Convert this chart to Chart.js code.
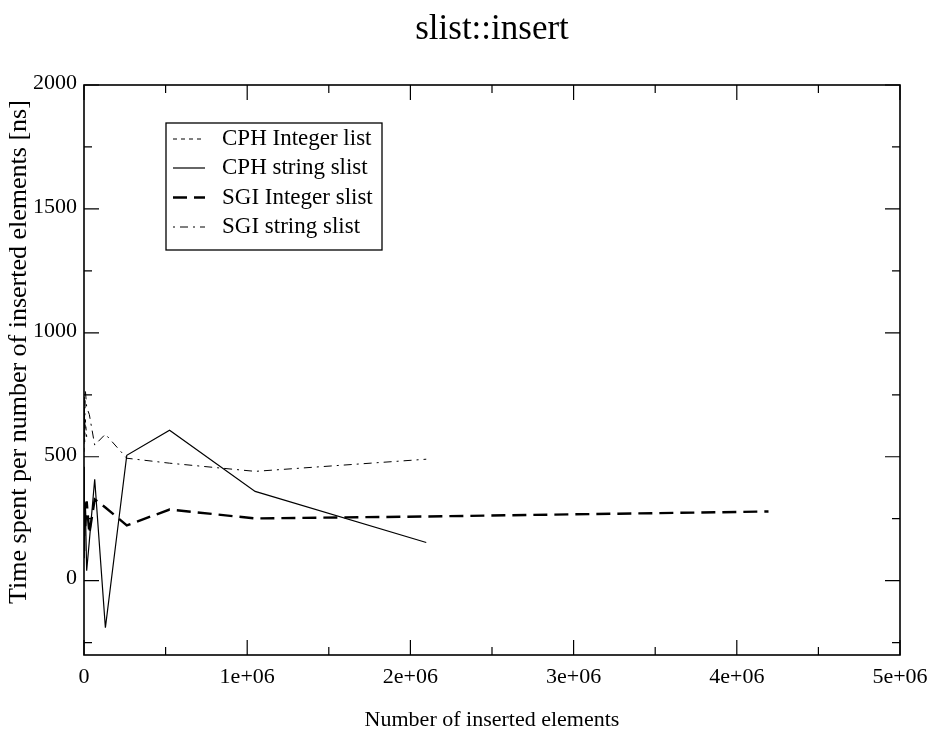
<!DOCTYPE html>
<html><head><meta charset="utf-8">
<script src="https://cdn.jsdelivr.net/npm/chart.js@4.4.1/dist/chart.umd.min.js"></script>
<style>html,body{margin:0;padding:0;background:#fff;overflow:hidden}</style>
</head><body>
<canvas id="c" width="938" height="734" style="display:block;width:938px;height:734px"></canvas>
<script>
// ---- text ----
const chartTitle = 'slist::insert';
const xTitle = 'Number of inserted elements';
const yTitle = 'Time spent per number of inserted elements [ns]';
const seriesNames = ['CPH Integer list', 'CPH string slist', 'SGI Integer slist', 'SGI string slist'];

// ---- data ----
const sizesCphInt = [256, 512, 1024, 2048, 4096, 8192, 16384];
const cphInteger  = [520, 740, 610, 690, 560, 650, 580];

const sizes      = [256, 512, 1024, 2048, 4096, 8192, 16384, 32768, 65536, 131072, 262144, 524288, 1048576, 2097152];
const cphString  = [180, 460, 90, 330, 210, 300, 40, 160, 409, -190, 506, 607, 360, 154];
const sgiString  = [610, 700, 560, 740, 600, 770, 700, 670, 547, 591, 494, 474, 441, 490];

const sizesSgiInt = [256, 512, 1024, 2048, 4096, 8192, 16384, 32768, 65536, 131072, 262144, 524288, 1048576, 2097152, 4194304];
const sgiInteger  = [250, 120, 300, 180, 330, 220, 320, 190, 328, 295, 223, 287, 251, 259, 279];

// ---- ticks ----
const xMajorTicks = [0, 1e6, 2e6, 3e6, 4e6, 5e6];
const xTickLabels = ['0', '1e+06', '2e+06', '3e+06', '4e+06', '5e+06'];
const xMinorTicks = [5e5, 1.5e6, 2.5e6, 3.5e6, 4.5e6];
const yMajorTicks = [0, 500, 1000, 1500, 2000];
const yTickLabels = ['0', '500', '1000', '1500', '2000'];
const yMinorTicks = [-250, 250, 750, 1250, 1750];

const FONT = '"Liberation Serif", "Times New Roman", serif';

function pts(xs, ys) { return xs.map((x, i) => ({ x: x, y: ys[i] })); }

const frame = {
  id: 'frame',
  beforeDatasetsDraw(chart) {
    const { ctx, chartArea: a, scales } = chart;
    const xs = scales.x, ys = scales.y;
    ctx.save();
    ctx.strokeStyle = '#000';
    ctx.lineWidth = 1.6;
    ctx.setLineDash([]);
    ctx.strokeRect(a.left, a.top, a.right - a.left, a.bottom - a.top);
    ctx.lineWidth = 1.2;
    ctx.beginPath();
    const hx = v => xs.getPixelForValue(v);
    const vy = v => ys.getPixelForValue(v);
    xMajorTicks.forEach(v => { const p = hx(v); ctx.moveTo(p, a.bottom); ctx.lineTo(p, a.bottom - 15); ctx.moveTo(p, a.top); ctx.lineTo(p, a.top + 15); });
    xMinorTicks.forEach(v => { const p = hx(v); ctx.moveTo(p, a.bottom); ctx.lineTo(p, a.bottom - 8); ctx.moveTo(p, a.top); ctx.lineTo(p, a.top + 8); });
    yMajorTicks.forEach(v => { const p = vy(v); ctx.moveTo(a.left, p); ctx.lineTo(a.left + 15, p); ctx.moveTo(a.right, p); ctx.lineTo(a.right - 15, p); });
    yMinorTicks.forEach(v => { const p = vy(v); ctx.moveTo(a.left, p); ctx.lineTo(a.left + 8, p); ctx.moveTo(a.right, p); ctx.lineTo(a.right - 8, p); });
    ctx.stroke();
    ctx.restore();
  },
  afterDraw(chart) {
    const { ctx } = chart;
    // y axis title (rotated)
    ctx.save();
    ctx.fillStyle = '#000';
    ctx.translate(19, 352);
    ctx.rotate(-Math.PI / 2);
    ctx.font = '26px ' + FONT;
    ctx.textAlign = 'center';
    ctx.textBaseline = 'middle';
    ctx.fillText(yTitle, 0, 0);
    ctx.restore();
    // legend box
    const L = 166, R = 382, T = 123, B = 250;
    ctx.save();
    ctx.strokeStyle = '#000';
    ctx.lineWidth = 1.3;
    ctx.setLineDash([]);
    ctx.strokeRect(L, T, R - L, B - T);
    const rows = [139, 168, 197.5, 227];
    chart.data.datasets.forEach((ds, i) => {
      const y = rows[i];
      ctx.beginPath();
      ctx.setLineDash(ds.borderDash || []);
      ctx.lineDashOffset = ds.legendDashOffset || 0;
      ctx.lineWidth = ds.borderWidth;
      ctx.moveTo(173, y);
      ctx.lineTo(205, y);
      ctx.stroke();
      ctx.setLineDash([]);
      ctx.fillStyle = '#000';
      ctx.font = '23px ' + FONT;
      ctx.textAlign = 'left';
      ctx.textBaseline = 'middle';
      ctx.fillText(seriesNames[i], 222, y);
    });
    ctx.restore();
  }
};

Chart.defaults.font.family = FONT;
Chart.defaults.color = '#000';

new Chart(document.getElementById('c'), {
  type: 'line',
  data: {
    datasets: [
      { label: seriesNames[0], data: pts(sizesCphInt, cphInteger), borderColor: '#000', borderWidth: 1, borderDash: [4, 4], pointRadius: 0, fill: false, tension: 0 },
      { label: seriesNames[1], data: pts(sizes, cphString), borderColor: '#000', borderWidth: 1.2, borderDash: [], pointRadius: 0, fill: false, tension: 0 },
      { label: seriesNames[2], data: pts(sizesSgiInt, sgiInteger), borderColor: '#000', borderWidth: 2.4, borderDash: [14, 7], pointRadius: 0, fill: false, tension: 0 },
      { label: seriesNames[3], data: pts(sizes, sgiString), borderColor: '#000', borderWidth: 1, borderDash: [8, 5, 2, 5], legendDashOffset: 13, pointRadius: 0, fill: false, tension: 0 }
    ]
  },
  options: {
    responsive: false,
    animation: false,
    devicePixelRatio: 1,
    layout: { padding: { left: 0, right: 38, top: 0, bottom: 0 } },
    plugins: {
      legend: { display: false },
      tooltip: { enabled: false },
      title: {
        display: true, text: chartTitle, fullSize: false, color: '#000',
        font: { size: 35, weight: 'normal', family: FONT, lineHeight: 1.2 },
        padding: { top: 9, bottom: 34 }
      }
    },
    scales: {
      x: {
        type: 'linear', min: 0, max: 5e6,
        afterFit: s => { s.height = 79; },
        afterBuildTicks: s => { s.ticks = xMajorTicks.map(v => ({ value: v })); },
        grid: { display: false, drawTicks: false },
        border: { display: false },
        ticks: {
          autoSkip: false, maxRotation: 0, padding: 9,
          font: { size: 22, family: FONT },
          callback: v => xTickLabels[xMajorTicks.indexOf(v)]
        },
        title: { display: true, text: xTitle, font: { size: 22, family: FONT }, padding: { top: 0, bottom: 1 } }
      },
      y: {
        type: 'linear', min: -300, max: 2000,
        afterFit: s => { s.width = 84; },
        afterBuildTicks: s => { s.ticks = yMajorTicks.map(v => ({ value: v })); },
        grid: { display: false, drawTicks: false },
        border: { display: false },
        ticks: {
          autoSkip: false, padding: 7, labelOffset: -2,
          font: { size: 22, family: FONT },
          callback: v => yTickLabels[yMajorTicks.indexOf(v)]
        }
      }
    }
  },
  plugins: [frame]
});
</script>
</body></html>
